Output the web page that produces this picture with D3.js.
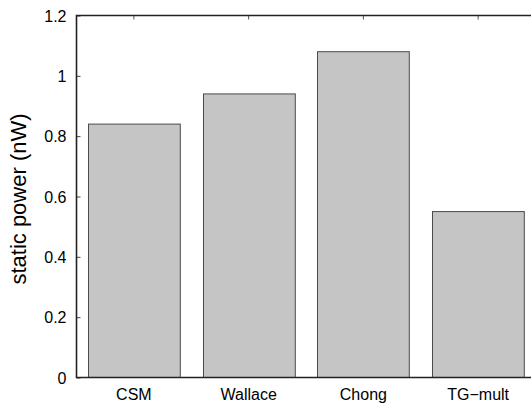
<!DOCTYPE html>
<html>
<head>
<meta charset="utf-8">
<script src="https://cdn.jsdelivr.net/npm/d3@7"></script>
<style>
body{margin:0;background:#fff}
svg text{font-family:"Liberation Sans",Arial,sans-serif;fill:#000}
</style>
</head>
<body>
<svg id="main_svg" width="531" height="404"></svg>
<script>
let categories = ["CSM", "Wallace", "Chong", "TG\u2212mult"]
let power = [0.84, 0.94, 1.08, 0.55]
let y_ticks = [0, 0.2, 0.4, 0.6, 0.8, 1, 1.2]
let y_tick_labels = ["0", "0.2", "0.4", "0.6", "0.8", "1", "1.2"]

let m_left = 76.5, m_right = 535.5, m_top = 15.5, m_bottom = 377.5
let svg = d3.select("#main_svg")

let x = d3.scaleBand()
    .domain(categories)
    .range([m_left, m_right])
    .paddingInner(0.2)
    .paddingOuter(0.1)
let y = d3.scaleLinear()
    .domain([0, 1.2])
    .range([m_bottom, m_top])

// bars
svg.selectAll(".bar")
    .data(power)
    .enter()
    .append("rect")
    .attr("class", "bar")
    .attr("x", (d, i) => Math.round(x(categories[i])) + 0.5)
    .attr("y", d => y(d))
    .attr("width", x.bandwidth())
    .attr("height", d => m_bottom - y(d))
    .attr("fill", "#c4c5c4")
    .attr("stroke", "#4a4a4a")
    .attr("stroke-width", 1)

// y axis left
let yl = d3.axisLeft(y).tickValues(y_ticks)
    .tickFormat((d, i) => y_tick_labels[i])
    .tickSizeInner(-4).tickSizeOuter(0).tickPadding(10)
let gl = svg.append("g").attr("transform", "translate(" + m_left + ",0)").call(yl)
gl.select(".domain").remove()
gl.selectAll("text").style("font-size", "16px").attr("dy", "0.36em")
gl.selectAll("line").attr("stroke", "#444")

// y axis right (ticks only)
let yr = d3.axisRight(y).tickValues(y_ticks).tickFormat("").tickSizeInner(-4).tickSizeOuter(0)
let gr = svg.append("g").attr("transform", "translate(" + m_right + ",0)").call(yr)
gr.select(".domain").remove()
gr.selectAll("line").attr("stroke", "#666")

// x axis bottom
let xb = d3.axisBottom(x).tickSize(0).tickPadding(11)
let gb = svg.append("g").attr("transform", "translate(0," + m_bottom + ")").call(xb)
gb.select(".domain").remove()
gb.selectAll("text").style("font-size", "16px")

// top ticks
let xt = d3.axisTop(x).tickFormat("").tickSizeInner(-4).tickSizeOuter(0)
let gt = svg.append("g").attr("transform", "translate(0," + m_top + ")").call(xt)
gt.select(".domain").remove()
gt.selectAll("line").attr("stroke", "#555")

// frame
svg.append("path")
    .attr("d", "M" + m_right + "," + m_top + "H" + m_left + "V" + m_bottom + "H" + m_right)
    .attr("fill", "none")
    .attr("stroke", "#222")
    .attr("stroke-width", 1.6)

// y label
svg.append("text")
    .attr("transform", "translate(26,199) rotate(-90)")
    .attr("text-anchor", "middle")
    .style("font-size", "22px")
    .text("static power (nW)")
</script>
</body>
</html>
